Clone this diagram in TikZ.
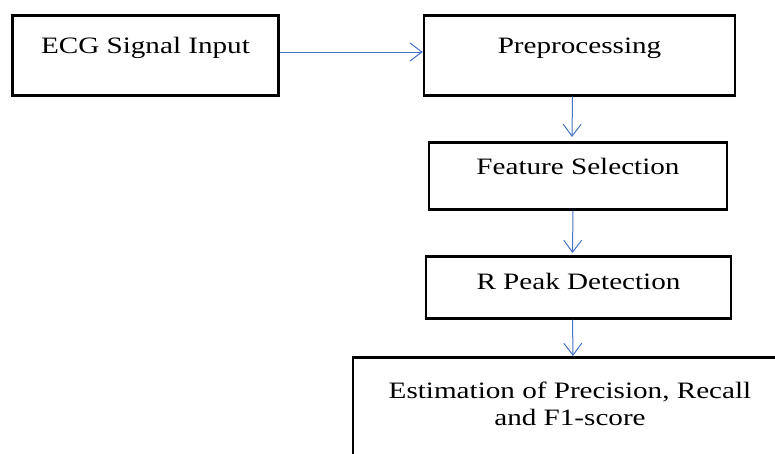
\documentclass[tikz,border=0pt]{standalone}
\usepackage{fontspec}
\setmainfont{Liberation Serif}[FakeStretch=1.24]
\usetikzlibrary{arrows.meta}
\definecolor{flowblue}{RGB}{68,114,196}
\begin{document}
\begin{tikzpicture}[x=1pt, y=-1pt,
    blk/.style={draw, line width=2.5pt, anchor=north, inner xsep=0pt, inner ysep=0pt,
        font=\fontsize{23.5}{27}\selectfont},
    flow/.style={-{Straight Barb[length=12pt, width=18pt]}, draw=flowblue, line width=1pt}]
    \clip (0,0) rectangle (775,453);
    % Nodes
    \node[blk, minimum width=266, text height=38, text depth=42] (ecg) at (145.5, 14) {ECG Signal Input};
    \node[blk, minimum width=311, text height=38, text depth=42] (pre) at (579.5, 14) {Preprocessing};
    \node[blk, minimum width=298, text height=32, text depth=35] (feat) at (578, 141) {Feature Selection};
    \node[blk, minimum width=305, text height=33, text depth=29] (rpk) at (578.5, 255) {R Peak Detection};
    \node[blk, minimum width=434, align=center, text height=68, text depth=60] (est) at (570, 356) {Estimation of Precision, Recall\\and F1-score};

    % Edges
    \draw[flow] (ecg.east |- 0,52) -- (pre.west |- 0,52);
    \draw[flow] ([xshift=-7pt]pre.south) -- ([xshift=-6pt, yshift=4pt]feat.north);
    \draw[flow] ([xshift=-5pt]feat.south) -- ([xshift=-6pt, yshift=2pt]rpk.north);
    \draw[flow] ([xshift=-6pt]rpk.south) -- ([xshift=3pt]est.north);
\end{tikzpicture}
\end{document}
